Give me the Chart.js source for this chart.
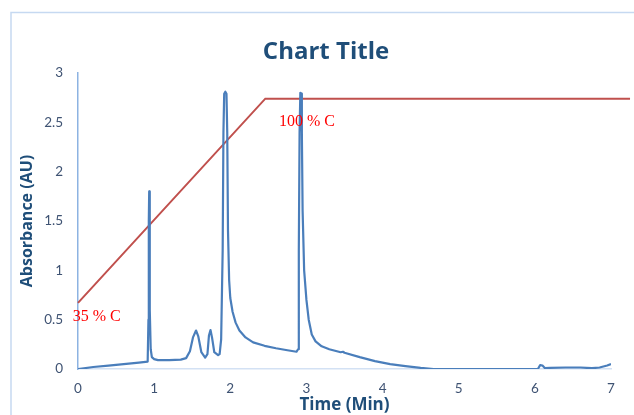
<!DOCTYPE html>
<html>
<head>
<meta charset="utf-8">
<script src="https://cdn.jsdelivr.net/npm/chart.js@4/dist/chart.umd.min.js"></script>
<style>
html,body{margin:0;padding:0;background:#fff;}
#wrap{width:634px;height:415px;position:relative;}
</style>
</head>
<body>
<div id="wrap"><canvas id="c" width="634" height="415"></canvas></div>
<script>
// Absorbance trace: retention time (min) and absorbance (AU)
const traceTime = [0,0.2,0.4,0.6,0.8,0.915,0.925,0.93,0.935,0.94,0.945,0.955,0.97,1.0,1.05,1.2,1.35,1.42,1.47,1.51,1.55,1.58,1.62,1.67,1.7,1.72,1.74,1.76,1.79,1.84,1.86,1.88,1.9,1.91,1.92,1.935,1.95,1.96,1.97,1.985,2.0,2.03,2.07,2.12,2.2,2.3,2.45,2.6,2.75,2.87,2.89,2.9,2.91,2.92,2.93,2.94,2.95,2.97,3.0,3.03,3.07,3.12,3.2,3.3,3.45,3.48,3.5,3.7,3.9,4.1,4.3,4.5,4.67,5.0,5.5,6.04,6.07,6.1,6.13,6.2,6.4,6.6,6.75,6.85,6.95,7.0];
const traceAbs  = [0,0.02,0.035,0.05,0.065,0.075,0.5,1.5,1.8,1.5,0.6,0.2,0.12,0.1,0.09,0.09,0.095,0.11,0.18,0.32,0.39,0.33,0.17,0.115,0.15,0.34,0.395,0.32,0.17,0.14,0.15,0.3,1.2,2.4,2.79,2.81,2.79,2.4,1.4,0.9,0.72,0.58,0.47,0.39,0.32,0.27,0.235,0.21,0.19,0.175,0.2,1.2,2.4,2.8,2.79,2.4,1.6,1.0,0.7,0.5,0.35,0.28,0.23,0.2,0.17,0.175,0.165,0.12,0.08,0.05,0.03,0.012,0,0,0,0,0.04,0.035,0.01,0.012,0.015,0.015,0.008,0.015,0.035,0.05];
// Gradient (%C) profile drawn on the absorbance axis
const gradTime = [0,2.46,7.25];
const gradAbs  = [0.67,2.74,2.74];
// Tick settings
const xTicks = [0,1,2,3,4,5,6,7];
const yTicks = [0,0.5,1,1.5,2,2.5,3];
// Annotation labels
const noteText = ["35 % C","100 % C"];
const noteX = [-0.07,2.64];
const noteY = [0.53,2.51];

const toPts = (xs, ys) => xs.map((x, i) => ({x: x, y: ys[i]}));

const framePlugin = {
  id: 'frame',
  beforeDraw(chart) {
    const ctx = chart.ctx;
    ctx.save();
    ctx.strokeStyle = '#C6D9F1';
    ctx.lineWidth = 1.5;
    ctx.strokeRect(11, 12.5, 700, 500);
    ctx.restore();
  }
};
const notePlugin = {
  id: 'notes',
  afterDatasetsDraw(chart) {
    const ctx = chart.ctx, xs = chart.scales.x, ys = chart.scales.y;
    ctx.save();
    ctx.font = '16px "Liberation Serif"';
    ctx.fillStyle = '#FF0000';
    ctx.textAlign = 'left';
    ctx.textBaseline = 'middle';
    noteText.forEach((t, i) => {
      ctx.fillText(t, xs.getPixelForValue(noteX[i]), ys.getPixelForValue(noteY[i]));
    });
    ctx.restore();
  }
};

new Chart(document.getElementById('c'), {
  type: 'scatter',
  data: {
    datasets: [
      {
        label: 'Absorbance',
        data: toPts(traceTime, traceAbs),
        showLine: true,
        borderColor: '#4A7EBB',
        borderWidth: 2.2,
        pointRadius: 0,
        tension: 0,
        borderJoinStyle: 'round'
      },
      {
        label: 'Gradient',
        data: toPts(gradTime, gradAbs),
        showLine: true,
        borderColor: '#C0504D',
        borderWidth: 2,
        pointRadius: 0,
        clip: false
      }
    ]
  },
  options: {
    responsive: false,
    animation: false,
    events: [],
    layout: {padding: {left: 18, right: 0, top: 0, bottom: 0}},
    plugins: {
      legend: {display: false},
      tooltip: {enabled: false},
      title: {
        display: true,
        text: 'Chart Title',
        color: '#1F4E79',
        font: {family: 'Open Sans', size: 24, weight: 'bold', lineHeight: 1.2},
        padding: {top: 37.6, bottom: 6.6}
      }
    },
    scales: {
      x: {
        type: 'linear',
        min: 0, max: 7,
        afterBuildTicks(s) { s.ticks = xTicks.map(v => ({value: v})); },
        afterFit(s) { s.height = 46; },
        grid: {display: true, drawOnChartArea: false, drawTicks: false},
        border: {display: true, color: '#D3E1F4', width: 1.5},
        ticks: {color: '#3F5373', font: {family: 'Lato', size: 13.5}, padding: 12, maxRotation: 0, callback: v => String(v)},
        title: {display: true, text: 'Time (Min)', color: '#1F4E79', font: {family: 'Open Sans', size: 17, weight: 'bold', lineHeight: 1.2}, padding: {top: 0, bottom: 0}}
      },
      y: {
        type: 'linear',
        min: 0, max: 3,
        afterBuildTicks(s) { s.ticks = yTicks.map(v => ({value: v})); },
        afterFit(s) { s.width = 60; },
        grid: {display: true, drawOnChartArea: false, drawTicks: false},
        border: {display: true, color: '#8DB3E2', width: 1.5},
        ticks: {color: '#3F5373', font: {family: 'Lato', size: 13.5}, padding: 15, callback: v => String(v)},
        title: {display: true, text: 'Absorbance (AU)', color: '#1F4E79', font: {family: 'Open Sans', size: 16, weight: 'bold', lineHeight: 1.2}, padding: {top: 0, bottom: 0}}
      },
      yRight: {
        type: 'linear',
        position: 'right',
        display: true,
        afterFit(s) { s.width = 23; },
        grid: {display: false},
        border: {display: false},
        ticks: {display: false},
        title: {display: false}
      }
    }
  },
  plugins: [framePlugin, notePlugin]
});
</script>
</body>
</html>
